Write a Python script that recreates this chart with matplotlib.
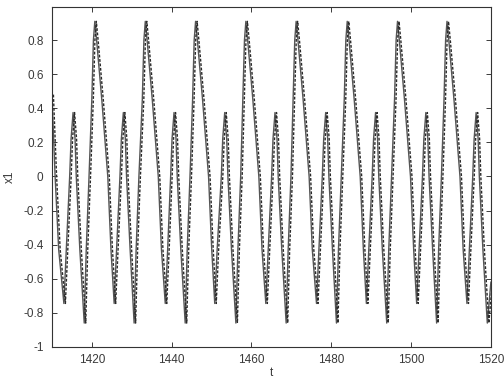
import matplotlib
matplotlib.use("Agg")
import matplotlib.pyplot as plt
import matplotlib.transforms as mtransforms

# values, one row per oscillation cycle
t = [1410.0, 1410.3, 1410.8, 1411.7,
     1413.0, 1413.6, 1414.45, 1414.8, 1415.3, 1415.8, 1416.1, 1417.0, 1418.1, 1418.6, 1419.3, 1420.0, 1420.4, 1420.75, 1421.2, 1422.5, 1424.0, 1424.8,
     1425.6, 1426.2, 1427.05, 1427.4, 1427.9, 1428.4, 1428.7, 1429.6, 1430.6, 1431.1, 1431.8, 1432.65, 1433.05, 1433.4, 1433.85, 1435.15, 1436.65, 1437.45,
     1438.4, 1439.0, 1439.75, 1440.1, 1440.6, 1441.1, 1441.4, 1442.3, 1443.4, 1443.9, 1444.6, 1445.25, 1445.65, 1446.0, 1446.45, 1447.75, 1449.25, 1450.05,
     1450.8, 1451.4, 1452.45, 1452.8, 1453.3, 1453.8, 1454.1, 1455.0, 1456.1, 1456.6, 1457.3, 1457.85, 1458.25, 1458.6, 1459.05, 1460.35, 1461.85, 1462.65,
     1463.6, 1464.2, 1465.05, 1465.4, 1465.9, 1466.4, 1466.7, 1467.6, 1468.7, 1469.2, 1469.9, 1470.45, 1470.85, 1471.2, 1471.65, 1472.95, 1474.45, 1475.25,
     1476.3, 1476.9, 1477.75, 1478.1, 1478.6, 1479.1, 1479.4, 1480.3, 1481.3, 1481.8, 1482.5, 1483.25, 1483.65, 1484.0, 1484.45, 1485.75, 1487.25, 1488.05,
     1488.8, 1489.4, 1490.25, 1490.6, 1491.1, 1491.6, 1491.9, 1492.8, 1493.9, 1494.4, 1495.1, 1495.85, 1496.25, 1496.6, 1497.05, 1498.35, 1499.85, 1500.65,
     1501.4, 1502.0, 1502.85, 1503.2, 1503.7, 1504.2, 1504.5, 1505.4, 1506.4, 1506.9, 1507.6, 1508.25, 1508.65, 1509.0, 1509.45, 1510.75, 1512.25, 1513.05,
     1514.0, 1514.6, 1515.45, 1515.8, 1516.3, 1516.8, 1517.1, 1518.0, 1519.1, 1519.5, 1520.0]

x1 = [0.48, 0.30, 0.00, -0.43,
      -0.745, -0.43, 0.00, 0.22, 0.375, 0.22, 0.00, -0.43, -0.86, -0.43, 0.00, 0.45, 0.80, 0.91, 0.80, 0.45, 0.00, -0.43,
      -0.745, -0.43, 0.00, 0.22, 0.375, 0.22, 0.00, -0.43, -0.86, -0.43, 0.00, 0.45, 0.80, 0.91, 0.80, 0.45, 0.00, -0.43,
      -0.745, -0.43, 0.00, 0.22, 0.375, 0.22, 0.00, -0.43, -0.86, -0.43, 0.00, 0.45, 0.80, 0.91, 0.80, 0.45, 0.00, -0.43,
      -0.745, -0.43, 0.00, 0.22, 0.375, 0.22, 0.00, -0.43, -0.86, -0.43, 0.00, 0.45, 0.80, 0.91, 0.80, 0.45, 0.00, -0.43,
      -0.745, -0.43, 0.00, 0.22, 0.375, 0.22, 0.00, -0.43, -0.86, -0.43, 0.00, 0.45, 0.80, 0.91, 0.80, 0.45, 0.00, -0.43,
      -0.745, -0.43, 0.00, 0.22, 0.375, 0.22, 0.00, -0.43, -0.86, -0.43, 0.00, 0.45, 0.80, 0.91, 0.80, 0.45, 0.00, -0.43,
      -0.745, -0.43, 0.00, 0.22, 0.375, 0.22, 0.00, -0.43, -0.86, -0.43, 0.00, 0.45, 0.80, 0.91, 0.80, 0.45, 0.00, -0.43,
      -0.745, -0.43, 0.00, 0.22, 0.375, 0.22, 0.00, -0.43, -0.86, -0.43, 0.00, 0.45, 0.80, 0.91, 0.80, 0.45, 0.00, -0.43,
      -0.745, -0.43, 0.00, 0.22, 0.375, 0.22, 0.00, -0.43, -0.86, -0.75, -0.62]

xticks = [1420, 1440, 1460, 1480, 1500, 1520]
yticks = [-1, -0.8, -0.6, -0.4, -0.2, 0, 0.2, 0.4, 0.6, 0.8]
ytick_labels = ["-1", "-0.8", "-0.6", "-0.4", "-0.2", "0", "0.2", "0.4", "0.6", "0.8"]

plt.rcParams['font.family'] = ['Liberation Sans', 'DejaVu Sans']
plt.rcParams['axes.unicode_minus'] = False

fig = plt.figure(figsize=(5.04, 3.80), dpi=100)
ax = fig.add_axes([0.103, 0.087, 0.871, 0.895])

ax.plot(t, x1, color='#555555', lw=1.0, solid_joinstyle='round')
off = mtransforms.offset_copy(ax.transData, fig=fig, x=1.5, y=0.0, units='dots')
ax.plot(t, x1, color='#2a2a2a', lw=1.0, linestyle=(0, (2.0, 1.2)), transform=off)

ax.set_xlim(1410, 1520)
ax.set_ylim(-1, 0.995)
ax.set_xticks(xticks)
ax.set_xticklabels([str(v) for v in xticks])
ax.set_yticks(yticks)
ax.set_yticklabels(ytick_labels)
ax.tick_params(axis='both', direction='in', top=True, right=True, length=3.5, width=0.7,
               labelsize=8.5, colors='#3a3a3a')
ax.tick_params(axis='y', pad=6)
ax.tick_params(axis='x', pad=5)
for s in ax.spines.values():
    s.set_linewidth(0.8)
    s.set_color('#333333')
ax.set_xlabel('t', fontsize=8.5, color='#3a3a3a', labelpad=0.5)
ax.set_ylabel('x1', fontsize=8.5, color='#3a3a3a', labelpad=5)

fig.savefig('out.png', dpi=100)
